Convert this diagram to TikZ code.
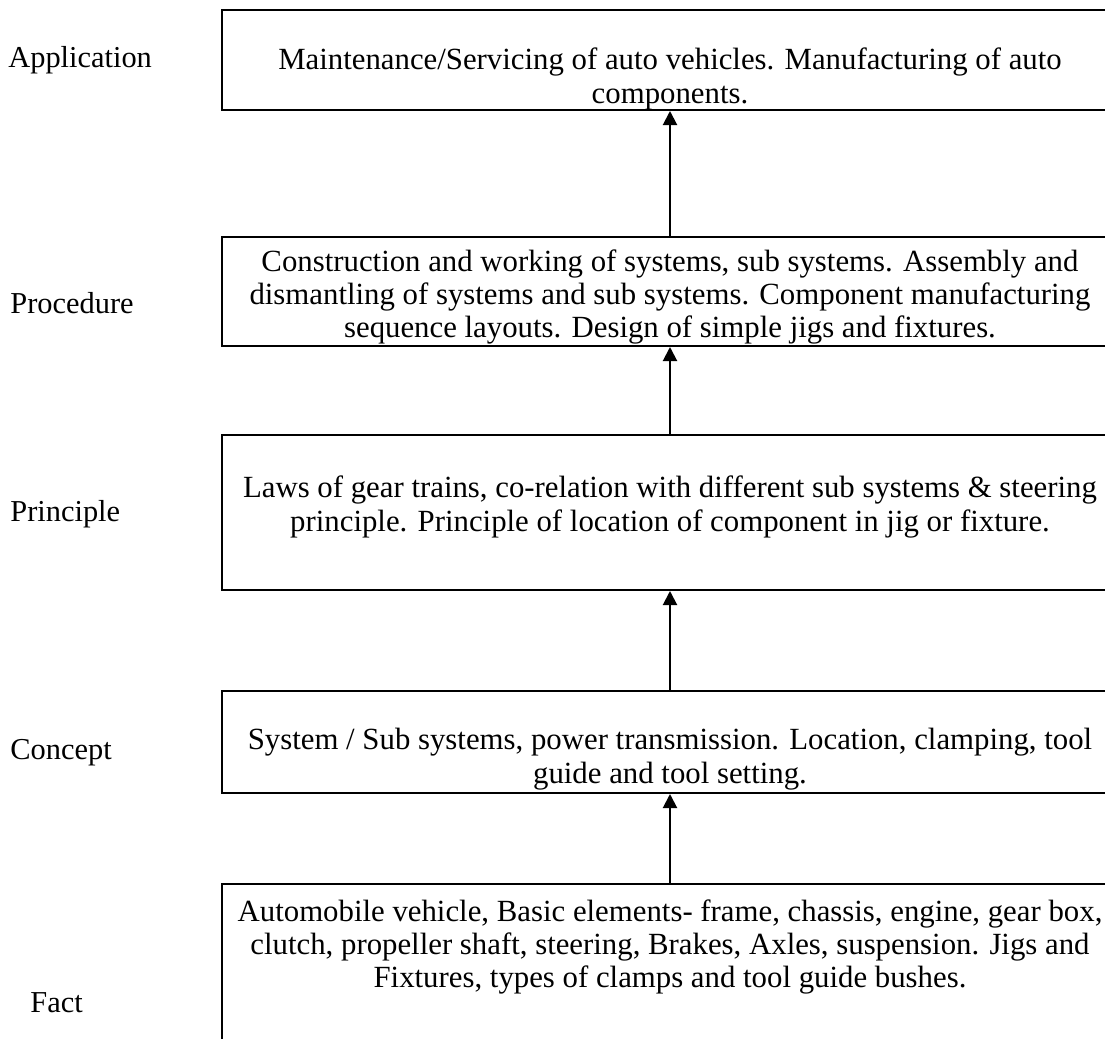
\documentclass[tikz,border=0pt]{standalone}
\usepackage{fontspec}
\setmainfont{Liberation Serif}
\usetikzlibrary{arrows.meta}

\tikzset{
  levelbox/.style={draw, line width=1pt, minimum width=448pt, inner sep=0pt},
  boxtext/.style={align=center, inner sep=0.75pt, font=\fontsize{15.4}{16.7}\selectfont},
  sidelabel/.style={anchor=west, inner sep=0pt, font=\fontsize{15.2}{16.7}\selectfont},
  uparrow/.style={line width=1pt, -{Triangle[width=7pt,length=7pt]}}
}

\begin{document}
\begin{tikzpicture}[x=0.5pt,y=0.5pt,yscale=-1,xscale=1]
        \useasboundingbox (0,0) rectangle (1105,1039);
        \clip (0,0) rectangle (1105,1039);

        % level boxes
        \node [levelbox, minimum height=50pt] (app) at (670,60) {};
        \node [levelbox, minimum height=54.5pt] (proc) at (670,291.5) {};
        \node [levelbox, minimum height=77.5pt] (prin) at (670,512.5) {};
        \node [levelbox, minimum height=51pt] (conc) at (670,742) {};
        \node [levelbox, minimum height=85pt] (fact) at (670,969) {};

        % arrows between levels
        \draw [uparrow] (fact.north) -- (conc.south);
        \draw [uparrow] (conc.north) -- (prin.south);
        \draw [uparrow] (prin.north) -- (proc.south);
        \draw [uparrow] (proc.north) -- (app.south);

        % texts
        \node [boxtext] (apptext) at (670,79) {Maintenance/Servicing of auto vehicles. Manufacturing of auto\\components.};
        \node [boxtext] (proctext) at (670,297) {Construction and working of systems, sub systems. Assembly and\\dismantling of systems and sub systems. Component manufacturing\\sequence layouts. Design of simple jigs and fixtures.};
        \node [boxtext] (printext) at (670,507) {Laws of gear trains, co-relation with different sub systems \& steering\\principle. Principle of location of component in jig or fixture.};
        \node [boxtext] (conctext) at (670,759) {System / Sub systems, power transmission. Location, clamping, tool\\guide and tool setting.};
        \node [boxtext] (facttext) at (670,947) {Automobile vehicle, Basic elements- frame, chassis, engine, gear box,\\clutch, propeller shaft, steering, Brakes, Axles, suspension. Jigs and\\Fixtures, types of clamps and tool guide bushes.};

        % level names
        \node [sidelabel] (lapp) at (8,60) {Application};
        \node [sidelabel] (lproc) at (10,303) {Procedure};
        \node [sidelabel] (lprin) at (10,514) {Principle};
        \node [sidelabel] (lconc) at (10,753) {Concept};
        \node [sidelabel] (lfact) at (30,1003) {Fact};
    \end{tikzpicture}
\end{document}
